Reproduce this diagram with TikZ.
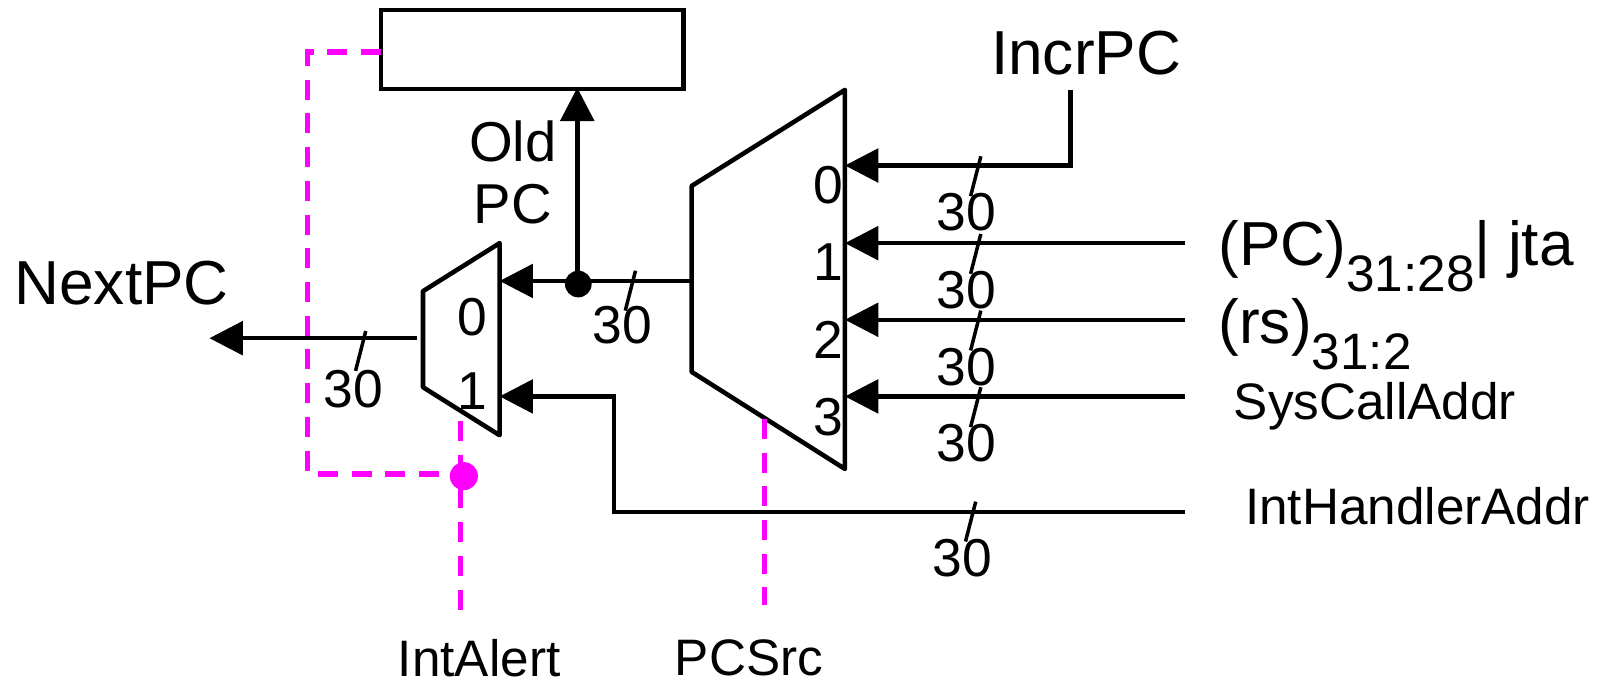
\documentclass[tikz,border=0pt]{standalone}
\usepackage{fontspec}
\setmainfont{Liberation Sans}
\usetikzlibrary{arrows.meta}

\definecolor{ctrlpink}{RGB}{255,0,255}
\tikzset{
  wire/.style={line width=1.3pt},
  bus/.style={wire,-{Triangle[length=9.5pt,width=9.5pt]}},
  tick/.style={line width=1pt},
  ctrl/.style={line width=1.5pt,color=ctrlpink,dash pattern=on 5.7pt off 3.9pt},
  lbl/.style={inner sep=0pt,font=\fontsize{14.6}{16}\selectfont},
  biglbl/.style={inner sep=0pt,font=\fontsize{17.7}{20}\selectfont},
  midlbl/.style={inner sep=0pt,font=\fontsize{16}{18}\selectfont},
  numlbl/.style={inner sep=0pt,font=\fontsize{15.2}{18}\selectfont},
}

\begin{document}
\begin{tikzpicture}[x=0.010217cm,y=-0.010217cm]
  \useasboundingbox (0,0) rectangle (1568,668);
  % register and the two muxes
  \node[wire,draw,minimum width=0.010217cm*296,minimum height=0.010217cm*77,inner sep=0pt] (oldreg) at (521,48.5) {};
  \draw[wire,line join=round] (677,182) -- (827,88) -- (827,459) -- (677,364) -- cycle;
  \draw[wire,line join=round] (414,285) -- (489,238) -- (489,426) -- (414,379) -- cycle;

  \coordinate (bigout) at (677,275);
  \coordinate (smallin0) at (489,275);
  \coordinate (smallin1) at (489,388);
  \coordinate (smallout) at (408,331);
  \coordinate (nextend) at (205,331);
  \coordinate (tap) at (565,275);
  \coordinate (corner1) at (601,388);
  \coordinate (corner2) at (601,501);
  \coordinate (inthandler) at (1160,501);
  \coordinate (incrtop) at (1048,88);
  \coordinate (incrbot) at (1048,162);
  \coordinate (bigin0) at (827,162);

  % control lines go under the wires
  \coordinate (ctrl1) at (373,51);
  \coordinate (ctrl2) at (301,51);
  \coordinate (ctrl3) at (301,464);
  \coordinate (ctrl4) at (451,464);
  \coordinate (alerttop) at (451,412);
  \coordinate (alertbot) at (451,598);
  \coordinate (srctop) at (748,410);
  \coordinate (srcbot) at (748,592);
  \draw[ctrl] (ctrl1) -- (ctrl2) -- (ctrl3) -- (ctrl4);
  \draw[ctrl] (alerttop) -- (alertbot);
  \draw[ctrl] (srctop) -- (srcbot);
  \fill[ctrlpink] (454,466) circle (4pt);

  \draw[bus] (smallout) -- (nextend);
  \draw[bus] (bigout) -- (smallin0);
  \draw[bus,shorten >=-1pt] (tap) -- (oldreg.south -| tap);
  \fill (566,278) circle (3.8pt);
  \draw[bus] (inthandler) -- (corner2) -- (corner1) -- (smallin1);
  \draw[bus] (incrtop) -- (incrbot) -- (bigin0);

  \foreach \i/\ypos in {1/238,2/313,3/388} {
    \coordinate (bigin\i) at (827,\ypos);
    \coordinate (src\i) at (1160,\ypos);
    \draw[bus] (src\i) -- (bigin\i);
  }

  % bus width marks
  \foreach \xpos/\ypos in {960/153,960/229,960/304,960/379,955/491,622/265,358/324} {
    \draw[tick] (\xpos,\ypos) -- ++(-10,39);
  }
  \foreach \xpos/\ypos in {946/208,946/284,946/359,946/434,942/546,609/318,346/381} {
    \node[numlbl] at (\xpos,\ypos) {30};
  }

  % mux inputs
  \foreach \ypos/\num in {181/0,257/1,333/2,408/3} {
    \node[numlbl] (big\num) at (811,\ypos) {\num};
  }
  \node[numlbl] (small0) at (462,310) {0};
  \node[numlbl] (small1) at (462,383) {1};

  \node[biglbl] (nextpc) at (119,277) {NextPC};
  \node[biglbl] (incrpc) at (1063,52) {IncrPC};
  \node[midlbl] (oldlbl) at (502,138) {Old};
  \node[midlbl] (pclbl) at (502,200) {PC};
  \node[biglbl,anchor=base west] (pcjta) at (1192,260) {(PC)\raisebox{-0.42em}{\fontsize{14.6}{16}\selectfont 31:28}| jta};
  \node[biglbl,anchor=base west] (rslbl) at (1192,336) {(rs)\raisebox{-0.42em}{\fontsize{14.6}{16}\selectfont 31:2}};
  \node[lbl,anchor=west] (syscall) at (1207,398) {SysCallAddr};
  \node[lbl,anchor=west] (handler) at (1218,495) {IntHandlerAddr};
  \node[lbl] (intalert) at (469,644) {IntAlert};
  \node[lbl] (pcsrc) at (733,644) {PCSrc};
\end{tikzpicture}
\end{document}
